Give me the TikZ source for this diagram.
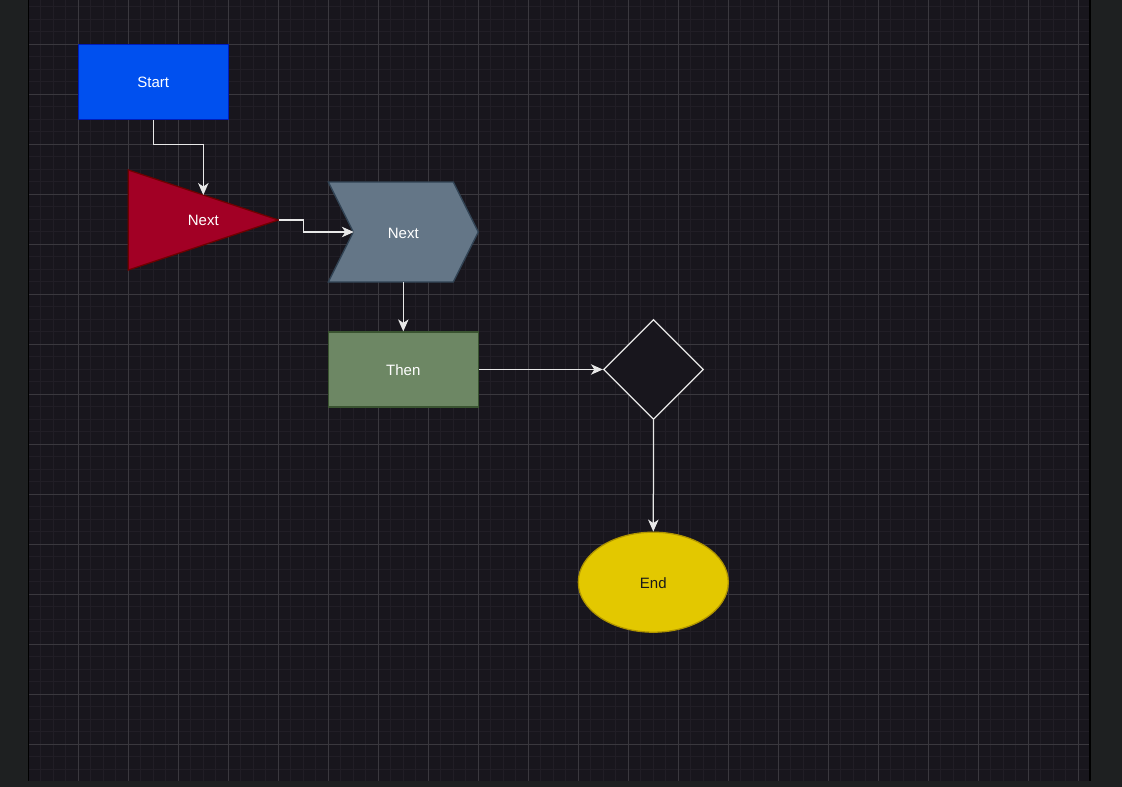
\documentclass[tikz,border=0pt]{standalone}
\usepackage{fontspec}
\setmainfont{Liberation Sans}
\usetikzlibrary{shapes.geometric,arrows.meta}
\definecolor{outerbg}{HTML}{1E2021}
\definecolor{canvasbg}{HTML}{18161D}
\definecolor{minorgrid}{HTML}{211E26}
\definecolor{majorgrid}{HTML}{3A383E}
\definecolor{edgecol}{HTML}{E8E8E8}
\definecolor{startfill}{HTML}{0050EF}
\definecolor{startdraw}{HTML}{001DBC}
\definecolor{trifill}{HTML}{A20025}
\definecolor{tridraw}{HTML}{6F0000}
\definecolor{chevfill}{HTML}{647687}
\definecolor{chevdraw}{HTML}{314354}
\definecolor{thenfill}{HTML}{6D8764}
\definecolor{thendraw}{HTML}{3A5431}
\definecolor{endfill}{HTML}{E3C800}
\definecolor{enddraw}{HTML}{B09500}
\definecolor{endtext}{HTML}{1A1A1A}
\tikzset{
  lbl/.style={font=\fontsize{15}{18}\selectfont, text=white, inner sep=0pt, text height=12pt, text depth=0pt},
  boxnode/.style={lbl, rectangle, line width=1.25pt, minimum width=150pt, minimum height=75pt},
  shapeline/.style={line width=1.25pt},
  edge/.style={draw=edgecol, line width=1.25pt, -{Stealth[length=12pt,width=10.5pt,inset=3.5pt]}},
}
\begin{document}
\begin{tikzpicture}[x=1pt,y=-1pt]
\useasboundingbox (0,0) rectangle (1122,787);
\fill[outerbg] (0,0) rectangle (1122,787);
\fill[canvasbg] (28.5,0) rectangle (1090,780.5);
\begin{scope}
  \clip (28.5,0) rectangle (1090,780.5);
  \foreach \i in {0,...,85} \draw[minorgrid, line width=1pt] ({28.3+12.5*\i},0) -- ({28.3+12.5*\i},781);
  \foreach \j in {0,...,63} \draw[minorgrid, line width=1pt] (28,{-5.7+12.5*\j}) -- (1090,{-5.7+12.5*\j});
  \foreach \i in {0,...,21} \draw[majorgrid, line width=1pt] ({28.3+50*\i},0) -- ({28.3+50*\i},781);
  \foreach \j in {0,...,16} \draw[majorgrid, line width=1pt] (28,{-5.7+50*\j}) -- (1090,{-5.7+50*\j});
\end{scope}
\draw[black, line width=1.2pt] (28.6,0) -- (28.6,780.5);
\draw[black, line width=1.2pt] (1090,0) -- (1090,780.5);

% Start
\node[boxnode, fill=startfill, draw=startdraw] (start) at (153.3,81.7) {Start};

% Triangle
\filldraw[shapeline, fill=trifill, draw=tridraw] (128.3,170) -- (278.3,220) -- (128.3,270) -- cycle;
\node[lbl] (tri) at (203.3,219.3) {Next};
\coordinate (tritop) at (203.3,195);
\coordinate (triapex) at (278.8,220);

% Chevron
\filldraw[shapeline, fill=chevfill, draw=chevdraw] (328.3,182) -- (453.3,182) -- (478.3,232) -- (453.3,282) -- (328.3,282) -- (353.3,232) -- cycle;
\node[lbl, minimum width=150pt, minimum height=100pt] (chev) at (403.3,232) {Next};
\coordinate (chevnotch) at (353.8,232);

% Then
\node[boxnode, fill=thenfill, draw=thendraw] (then) at (403.3,369.5) {Then};

% Diamond
\node[diamond, aspect=1, minimum width=100pt, minimum height=100pt, inner sep=0pt, fill=canvasbg, draw=edgecol, line width=1.25pt] (dia) at (653.5,369.5) {};

% End
\node[ellipse, lbl, text=endtext, minimum width=150pt, minimum height=100pt, fill=endfill, draw=enddraw, line width=1.25pt] (end) at (653.3,582.2) {End};

% Connectors
\draw[edge] (start.south) -- ++(0,25) -| (tritop);
\draw[edge] (triapex) -- ++(25,0) |- (chevnotch);
\draw[edge] (chev.south) -- (then.north);
\draw[edge] (then.east) -- (dia.west);
\draw[edge] (dia.south) -- (end.north);
\end{tikzpicture}
\end{document}
